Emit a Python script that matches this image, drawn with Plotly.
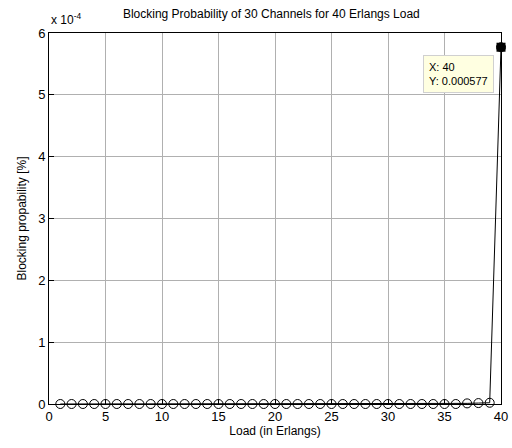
import plotly.graph_objects as go

load_erlangs = list(range(1, 41))
blocking_prob = [0.0] * 36 + [1.0e-6, 1.5e-6, 2.0e-6, 0.000577]
y_tick_vals = [0, 1e-4, 2e-4, 3e-4, 4e-4, 5e-4, 6e-4]
y_tick_text = ["0", "1", "2", "3", "4", "5", "6"]
x_tick_vals = [0, 5, 10, 15, 20, 25, 30, 35, 40]
tip_x = [load_erlangs[-1]]
tip_y = [blocking_prob[-1]]

font = "Liberation Sans, Arial, sans-serif"

fig = go.Figure()
fig.add_trace(go.Scatter(
    x=load_erlangs, y=blocking_prob, mode="lines+markers",
    line=dict(color="black", width=1),
    marker=dict(symbol="circle-open", size=9, color="black", line=dict(width=1)),
    cliponaxis=False, showlegend=False, hoverinfo="skip"))
fig.add_trace(go.Scatter(
    x=tip_x, y=tip_y, mode="markers",
    marker=dict(symbol="square", size=9, color="black"),
    cliponaxis=False, showlegend=False, hoverinfo="skip"))

axis_common = dict(showline=True, linecolor="black", linewidth=1, mirror=True,
                   ticks="inside", ticklen=5, tickcolor="black",
                   showgrid=True, gridcolor="#b0b0b0", gridwidth=1, automargin=False,
                   zeroline=False, tickfont=dict(family=font, size=13, color="black"))

fig.update_xaxes(range=[0, 40], tickvals=x_tick_vals,
                 title=dict(text="Load (in Erlangs)", font=dict(family=font, size=12, color="black"), standoff=4),
                 **axis_common)
fig.update_yaxes(range=[0, 6e-4], tickvals=y_tick_vals, ticktext=y_tick_text,
                 title=dict(text="Blocking propability [%]", font=dict(family=font, size=12, color="black"), standoff=8),
                 **axis_common)

fig.update_layout(
    width=512, height=448,
    margin=dict(l=49, r=11, t=33, b=44),
    plot_bgcolor="white", paper_bgcolor="white",
    title=dict(text="Blocking Probability of 30 Channels for 40 Erlangs Load",
               font=dict(family=font, size=12, color="black"),
               x=0.53, xanchor="center", y=(448 - 14) / 448, yanchor="middle", yref="container"),
)

fig.add_annotation(xref="paper", yref="paper", x=0, y=1, xanchor="left", yanchor="bottom",
                   yshift=4, text="x 10<sup>-4</sup>", showarrow=False,
                   font=dict(family=font, size=12, color="black"))
fig.add_annotation(xref="x", yref="y", x=tip_x[0], y=tip_y[0],
                   xshift=-43, yshift=-27, xanchor="center", yanchor="middle",
                   text="X: 40<br>Y: 0.000577", align="left", showarrow=False,
                   bgcolor="#ffffe1", bordercolor="#d0d0d0", borderwidth=1, borderpad=5,
                   font=dict(family=font, size=11, color="black"))

fig.write_html("out.html", config={"displayModeBar": False},
               post_script="document.body.style.margin='0';document.body.style.overflow='hidden';")
